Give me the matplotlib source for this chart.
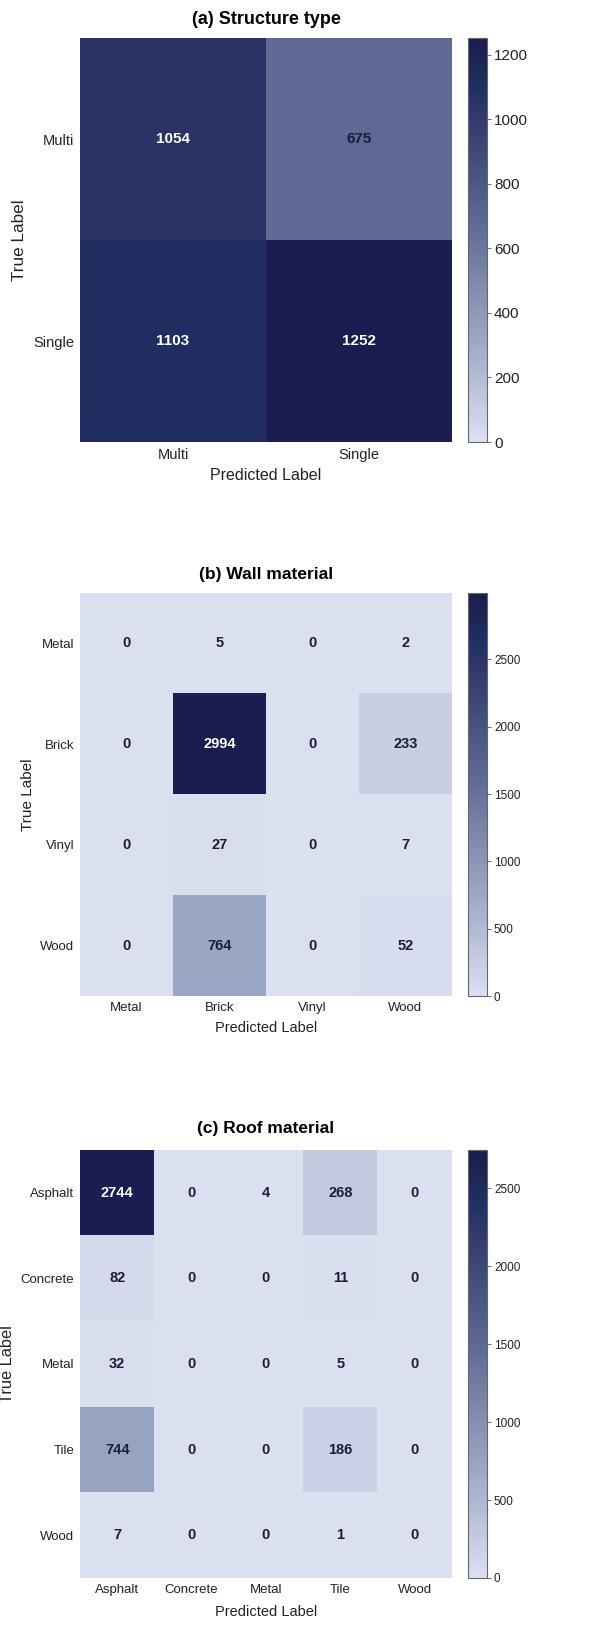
import numpy as np
import matplotlib
matplotlib.use("Agg")
import matplotlib.pyplot as plt
from matplotlib.colors import LinearSegmentedColormap

plt.rcParams["font.family"] = ["Liberation Sans", "DejaVu Sans"]

# confusion matrices (rows = true, cols = predicted)
structure_labels = ["Multi", "Single"]
structure_cm = [[1054, 675],
                [1103, 1252]]

wall_labels = ["Metal", "Brick", "Vinyl", "Wood"]
wall_cm = [[0, 5, 0, 2],
           [0, 2994, 0, 233],
           [0, 27, 0, 7],
           [0, 764, 0, 52]]

roof_labels = ["Asphalt", "Concrete", "Metal", "Tile", "Wood"]
roof_cm = [[2744, 0, 4, 268, 0],
           [82, 0, 0, 11, 0],
           [32, 0, 0, 5, 0],
           [744, 0, 0, 186, 0],
           [7, 0, 0, 1, 0]]

titles = ["(a) Structure type", "(b) Wall material", "(c) Roof material"]

cmap = LinearSegmentedColormap.from_list(
    "navy",
    [(0.0, "#dbe0f1"), (0.25, "#9da7c5"), (0.55, "#5d6893"),
     (0.84, "#2b3466"), (0.88, "#212e62"), (1.0, "#1a1d50")])

W, H = 609, 1627
fig = plt.figure(figsize=(W / 100, H / 100), dpi=100)


def px_box(x0, y0, x1, y1):
    return [x0 / W, 1 - y1 / H, (x1 - x0) / W, (y1 - y0) / H]


# per-panel layout in pixels: heatmap box, title / xlabel centre y, ylabel centre x
panels = [
    dict(cm=structure_cm, labels=structure_labels, box=(80, 38, 452, 442),
         title_y=19, xlab_y=476, ylab_x=20,
         title=13, xlab=11.5, ylab=12.3, tick=10.5, cbt=11, ann=11),
    dict(cm=wall_cm, labels=wall_labels, box=(80, 593, 452, 996),
         title_y=574, xlab_y=1028, ylab_x=28,
         title=12.5, xlab=10.5, ylab=11, tick=9.5, cbt=8.5, ann=10.5),
    dict(cm=roof_cm, labels=roof_labels, box=(80, 1150, 452, 1578),
         title_y=1128, xlab_y=1612, ylab_x=8,
         title=12.5, xlab=10.5, ylab=11.8, tick=9.5, cbt=8.5, ann=10.5),
]

for p, title in zip(panels, titles):
    cm = np.array(p["cm"])
    n = len(p["labels"])
    x0, y0, x1, y1 = p["box"]
    ax = fig.add_axes(px_box(x0, y0, x1, y1))
    cax = fig.add_axes(px_box(468, y0, 487, y1))

    im = ax.imshow(cm, cmap=cmap, vmin=0, vmax=cm.max(), aspect="auto",
                   interpolation="nearest")
    for i in range(n):
        for j in range(n):
            v = cm[i, j]
            color = "white" if v > 0.75 * cm.max() else "#1b1d36"
            ax.text(j, i, str(v), ha="center", va="center", color=color,
                    fontsize=p["ann"], fontweight="bold")

    ax.set_xticks(range(n))
    ax.set_yticks(range(n))
    ax.set_xticklabels(p["labels"], fontsize=p["tick"], color="#222222")
    ax.set_yticklabels(p["labels"], fontsize=p["tick"], color="#222222")
    ax.tick_params(length=0, pad=4)
    for s in ax.spines.values():
        s.set_visible(False)

    w, h = x1 - x0, y1 - y0
    ax.set_xlabel("Predicted Label", fontsize=p["xlab"], color="#222222")
    ax.xaxis.set_label_coords(0.5, -(p["xlab_y"] - y1) / h)
    ax.xaxis.label.set_va("center")
    ax.set_ylabel("True Label", fontsize=p["ylab"], color="#222222")
    ax.yaxis.set_label_coords((p["ylab_x"] - x0) / w, 0.5)
    ax.yaxis.label.set_va("center")
    ax.text(0.5, 1 + (y0 - p["title_y"]) / h, title, transform=ax.transAxes,
            ha="center", va="center", fontsize=p["title"], fontweight="bold")

    cb = fig.colorbar(im, cax=cax)
    cb.outline.set_edgecolor("#666666")
    cb.outline.set_linewidth(0.8)
    cax.tick_params(labelsize=p["cbt"], length=3, width=0.6,
                    color="#555555", labelcolor="#222222", pad=2)

fig.savefig("out.png", dpi=100)
